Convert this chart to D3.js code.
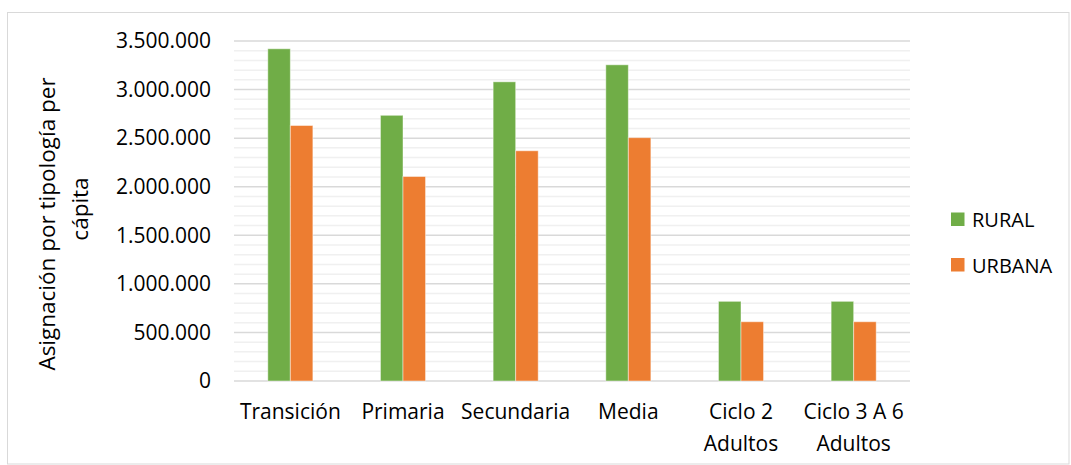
<!DOCTYPE html>
<html>
<head>
<meta charset="utf-8">
<script src="https://cdn.jsdelivr.net/npm/d3@7"></script>
<style>
  html, body { margin: 0; padding: 0; background: #fff; }
  svg { display: block; font-family: "Open Sans", sans-serif; }
</style>
</head>
<body>
<svg id="chart" width="1071" height="465"></svg>
<script>
const categories = ["Transición", "Primaria", "Secundaria", "Media", "Ciclo 2 Adultos", "Ciclo 3 A 6 Adultos"];
const categoryLabelLines = [["Transición"], ["Primaria"], ["Secundaria"], ["Media"], ["Ciclo 2", "Adultos"], ["Ciclo 3 A 6", "Adultos"]];
const seriesNames = ["RURAL", "URBANA"];
const rural = [3420000, 2735000, 3080000, 3255000, 820000, 820000];
const urbana = [2630000, 2105000, 2370000, 2505000, 610000, 610000];
const yTicks = [0, 500000, 1000000, 1500000, 2000000, 2500000, 3000000, 3500000];
const yMinorStep = 100000;
const yTitleLines = ["Asignación por tipología per", "cápita"];
const colors = ["#70AD47", "#ED7D31"];

const svg = d3.select("#chart");
const W = 1071, H = 465;
const plot = { left: 234, right: 910, top: 41, bottom: 381 };

// chart border
svg.append("rect").attr("x", 7.5).attr("y", 12.5).attr("width", W - 8.5 - 1).attr("height", H - 13.5)
  .attr("fill", "#fff").attr("stroke", "#d9d9d9").attr("stroke-width", 1);

const x = d3.scaleBand().domain(categories).range([plot.left, plot.right]).paddingInner(0.6).paddingOuter(0.3);
const xs = d3.scaleBand().domain(seriesNames).range([0, x.bandwidth()]);
const y = d3.scaleLinear().domain([0, 3500000]).range([plot.bottom, plot.top]);

// minor gridlines
const minor = d3.range(0, 3500000 + 1, yMinorStep).filter(v => v % 500000 !== 0);
svg.append("g").selectAll("line").data(minor).join("line")
  .attr("x1", plot.left).attr("x2", plot.right)
  .attr("y1", d => y(d)).attr("y2", d => y(d))
  .attr("stroke", "#f0f0f0").attr("stroke-width", 1.5);
// major gridlines
svg.append("g").selectAll("line").data(yTicks).join("line")
  .attr("x1", plot.left).attr("x2", plot.right)
  .attr("y1", d => y(d)).attr("y2", d => y(d))
  .attr("stroke", "#d9d9d9").attr("stroke-width", 1.5);

// y axis
const loc = d3.formatLocale({ decimal: ",", thousands: ".", grouping: [3], currency: ["", ""] });
const fmt = loc.format(",d");
const yAxis = svg.append("g").attr("transform", `translate(${plot.left},0)`)
  .call(d3.axisLeft(y).tickValues(yTicks).tickFormat(fmt).tickSize(0).tickPadding(23));
yAxis.select(".domain").remove();
yAxis.selectAll("text").attr("font-family", "Open Sans").attr("font-size", 21).attr("fill", "#000");

// bars
const data = [rural, urbana];
const groups = svg.append("g").selectAll("g").data(seriesNames).join("g").attr("fill", (d, i) => colors[i]);
groups.each(function (s, si) {
  d3.select(this).selectAll("rect").data(categories).join("rect")
    .attr("x", c => x(c) + xs(s))
    .attr("width", xs.bandwidth())
    .attr("y", (c, ci) => y(data[si][ci]))
    .attr("height", (c, ci) => y(0) - y(data[si][ci]))
    .attr("stroke", "rgba(255,255,255,0.45)").attr("stroke-width", 1);
});

// x axis labels
const xAxis = svg.append("g").attr("transform", `translate(0,${plot.bottom})`)
  .call(d3.axisBottom(x).tickSize(0).tickPadding(0));
xAxis.select(".domain").remove();
xAxis.selectAll("text").each(function (c, i) {
  const t = d3.select(this).text(null).attr("font-family", "Open Sans").attr("font-size", 21)
    .attr("fill", "#000").attr("dy", null).attr("y", 38);
  categoryLabelLines[i].forEach((line, li) => {
    t.append("tspan").attr("x", 0).attr("y", 38 + li * 32).text(line);
  });
});

// y title
const yt = svg.append("g");
yTitleLines.forEach((line, i) => {
  yt.append("text")
    .attr("transform", `translate(${55 + i * 33},${[224, 209][i]}) rotate(-90)`)
    .attr("text-anchor", "middle").attr("font-size", 22.5).attr("fill", "#000")
    .text(line);
});

// legend
const legend = svg.append("g").selectAll("g").data(seriesNames).join("g")
  .attr("transform", (d, i) => `translate(951,${212.5 + i * 45.5})`);
legend.append("rect").attr("width", 13.5).attr("height", 13.5).attr("fill", (d, i) => colors[i]);
legend.append("text").attr("x", 21).attr("y", 14.5).attr("font-size", 20).attr("fill", "#000").text(d => d);
</script>
</body>
</html>
